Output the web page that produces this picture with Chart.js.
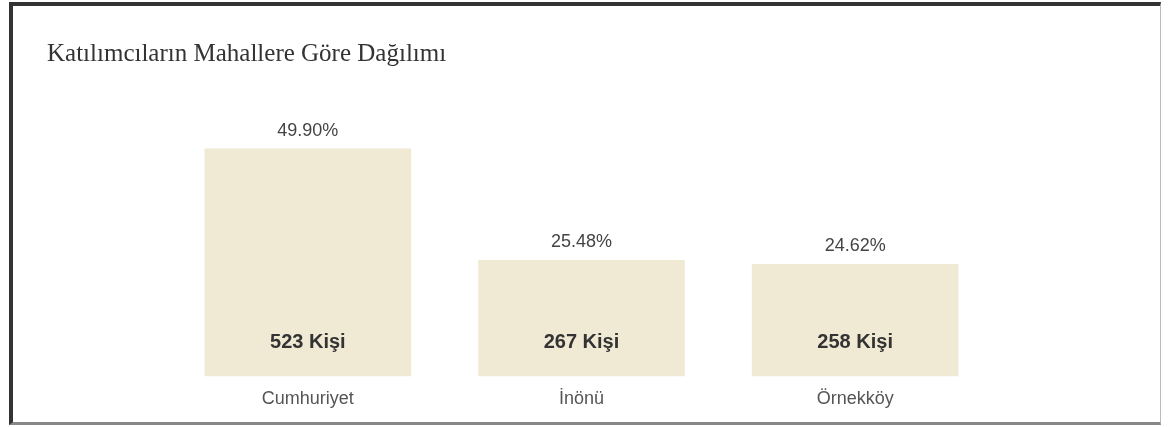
<!DOCTYPE html>
<html>
<head>
<meta charset="utf-8">
<script src="https://cdn.jsdelivr.net/npm/chart.js@4"></script>
<style>
  body { margin: 0; background: #fff; }
  .kutu {
    position: absolute; left: 9px; top: 2px;
    width: 1147px; height: 416px;
    border-left: 4px solid #333; border-top: 4px solid #333;
    border-right: 1px solid #bbb; border-bottom: 3px solid #888;
  }
  .baslik {
    position: absolute; left: 34px; top: 33px;
    font-family: "Liberation Serif", "Times New Roman", serif;
    font-size: 25px; color: #333; margin: 0; font-weight: normal;
  }
  canvas { display: block; }
</style>
</head>
<body>
<div class="kutu">
  <h2 class="baslik">Katılımcıların Mahallere Göre Dağılımı</h2>
  <canvas id="mahalleChart" width="1147" height="416"></canvas>
</div>
<script>
// veriler
const mahalleler = ['Cumhuriyet', 'İnönü', 'Örnekköy'];
const kisiSayilari = [523, 267, 258];
const yuzdeler = ['49.90%', '25.48%', '24.62%'];

// bar üstüne ve içine yazı yazan eklenti
const etiketEklentisi = {
    id: 'etiketler',
    afterDatasetsDraw(chart) {
        const ctx = chart.ctx;
        const meta = chart.getDatasetMeta(0);
        const taban = chart.scales.y.getPixelForValue(0);
        ctx.save();
        ctx.textAlign = 'center';
        ctx.textBaseline = 'middle';
        meta.data.forEach(function (bar, i) {
            ctx.fillStyle = '#444';
            ctx.font = '18px "Liberation Sans", Arial, sans-serif';
            ctx.fillText(yuzdeler[i], bar.x, bar.y - 18);
            ctx.fillStyle = '#333';
            ctx.font = 'bold 20px "Liberation Sans", Arial, sans-serif';
            ctx.fillText(kisiSayilari[i] + ' Kişi', bar.x, taban - 34);
        });
        ctx.restore();
    }
};

var chartArea = document.getElementById('mahalleChart').getContext('2d');
var myChart = new Chart(chartArea, {
    type: 'bar',
    data: {
        labels: mahalleler,
        datasets: [{
            data: kisiSayilari,
            backgroundColor: '#f0ead5',
            barPercentage: 0.755,
            categoryPercentage: 1
        }]
    },
    options: {
        responsive: false,
        animation: false,
        layout: { padding: { left: 158, right: 168, top: 109, bottom: 0 } },
        plugins: {
            legend: { display: false },
            tooltip: { enabled: false }
        },
        scales: {
            x: {
                grid: { display: false, drawTicks: false },
                border: { display: false },
                ticks: {
                    color: '#555',
                    padding: 12,
                    font: { family: '"Liberation Sans", Arial, sans-serif', size: 18 }
                }
            },
            y: {
                display: false,
                min: 0,
                max: 600
            }
        }
    },
    plugins: [etiketEklentisi]
});
</script>
</body>
</html>
